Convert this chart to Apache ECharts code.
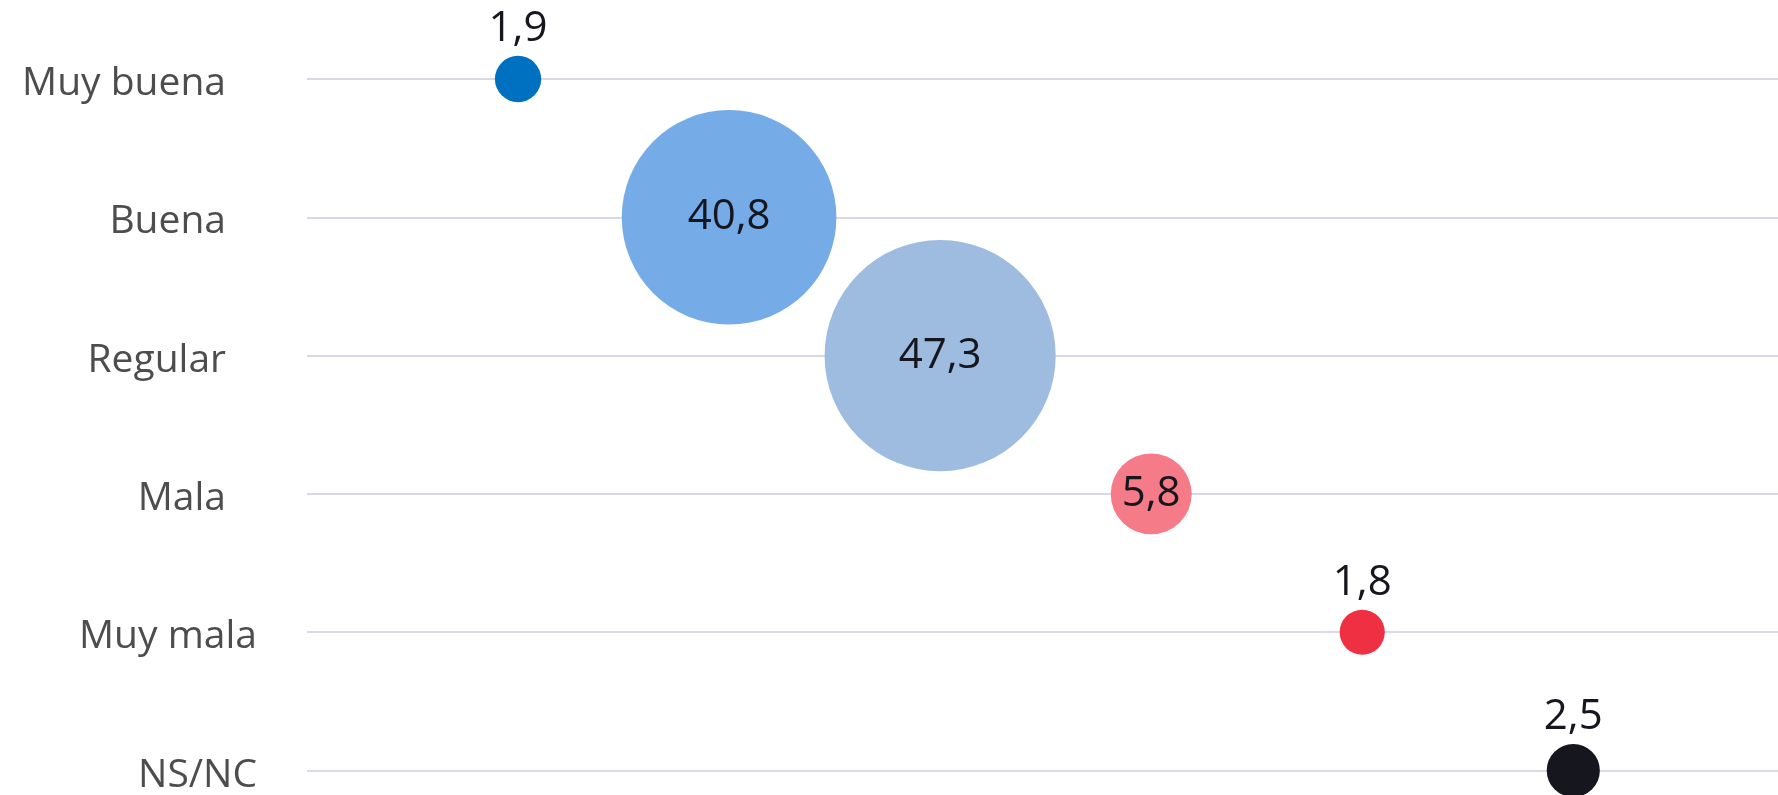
<!DOCTYPE html>
<html>
<head>
<meta charset="utf-8">
<script src="https://cdn.jsdelivr.net/npm/echarts@6/dist/echarts.min.js"></script>
<style>
  html, body { margin: 0; padding: 0; background: #fff; }
  #chart { width: 1778px; height: 795px; }
</style>
</head>
<body>
<div id="chart"></div>
<script>
var categories = ['Muy buena', 'Buena', 'Regular', 'Mala', 'Muy mala', 'NS/NC'];
var values = [1.9, 40.8, 47.3, 5.8, 1.8, 2.5];
var colors = ['#0070c0', '#75ace8', '#9dbce0', '#f47b87', '#ee3042', '#16161e'];

var chart = echarts.init(document.getElementById('chart'));

// 每个类别一个气泡，x 依次排开
var seriesData = values.map(function (v, i) {
  return {
    value: [i, categories[i], v],
    itemStyle: { color: colors[i], opacity: 1 },
    label: { position: v >= 5 ? 'inside' : 'top', distance: 6 }
  };
});

var option = {
  animation: false,
  grid: { left: 307, right: 0, top: 79, bottom: 23 },
  xAxis: {
    type: 'value',
    min: -1,
    max: 5.97,
    show: false,
    splitLine: { show: false }
  },
  yAxis: {
    type: 'category',
    data: categories,
    inverse: true,
    boundaryGap: false,
    axisLine: { show: false },
    axisTick: { show: false },
    splitLine: { show: true, lineStyle: { color: '#d7d9e6', width: 2 } },
    axisLabel: {
      margin: 50,
      color: '#4d4d4d',
      fontFamily: 'Open Sans',
      fontSize: 39,
      formatter: function (name, idx) {
        // 前四个标签比后两个略靠左
        return idx < 4 ? '{p|' + name + '}' : '{q|' + name + '}';
      },
      rich: {
        p: { padding: [10, 31, 0, 0], fontSize: 39, color: '#4d4d4d', fontFamily: 'Open Sans' },
        q: { padding: [10, 0, 0, 0], fontSize: 39, color: '#4d4d4d', fontFamily: 'Open Sans' }
      }
    }
  },
  series: [{
    type: 'scatter',
    data: seriesData,
    symbol: 'circle',
    symbolSize: function (val) {
      return 33.6 * Math.sqrt(val[2]);
    },
    label: {
      show: true,
      color: '#16161e',
      fontFamily: 'Open Sans',
      fontSize: 42,
      formatter: function (p) {
        return p.value[2].toFixed(1).replace('.', ',');
      }
    }
  }]
};
chart.setOption(option);
</script>
</body>
</html>
